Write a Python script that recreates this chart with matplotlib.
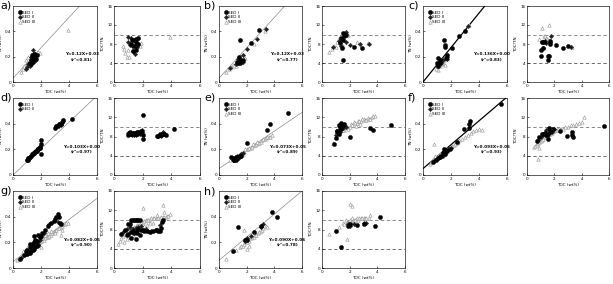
import matplotlib
matplotlib.use("Agg")
import matplotlib.pyplot as plt
import numpy as np

plt.rcParams['font.family'] = ['DejaVu Sans']

panel_labels = ["a)", "b)", "c)", "d)", "e)", "f)", "g)", "h)"]
group_names = ["SED I", "SED II", "SED III"]

# ---- data: TOC (wt%) and TN (wt%) per panel and sediment group ----
a_toc_1 = [1.2, 1.3, 1.35, 1.4, 1.45, 1.5, 1.55, 1.6, 1.65, 1.7, 1.25, 1.5]
a_tn_1 = [0.15, 0.17, 0.21, 0.16, 0.19, 0.18, 0.17, 0.2, 0.18, 0.21, 0.14, 0.22]
a_toc_2 = [1.0, 1.1, 1.2, 1.3, 1.45, 1.6, 0.95]
a_tn_2 = [0.12, 0.14, 0.13, 0.2, 0.25, 0.22, 0.1]
a_toc_3 = [0.6, 0.7, 0.8, 0.9, 1.0, 1.05, 1.8, 1.9, 3.9]
a_tn_3 = [0.08, 0.1, 0.13, 0.17, 0.15, 0.2, 0.24, 0.23, 0.41]

b_toc_1 = [1.3, 1.4, 1.5, 1.45, 1.6, 1.55, 1.7, 2.3, 2.9, 1.5]
b_tn_1 = [0.16, 0.15, 0.17, 0.2, 0.16, 0.15, 0.17, 0.31, 0.41, 0.33]
b_toc_2 = [0.8, 1.2, 1.35, 1.6, 1.7, 1.75, 2.0, 2.75, 3.4]
b_tn_2 = [0.11, 0.14, 0.18, 0.17, 0.16, 0.21, 0.26, 0.34, 0.42]
b_toc_3 = [0.5, 0.7, 0.9, 1.0, 1.1, 1.2, 1.3, 1.5, 1.9, 2.5, 3.3]
b_tn_3 = [0.08, 0.1, 0.12, 0.135, 0.13, 0.13, 0.15, 0.2, 0.19, 0.3, 0.4]

c_toc_1 = [1.0, 1.05, 1.1, 1.2, 1.25, 1.5, 1.6, 1.7, 1.65, 2.1, 2.6, 3.0, 1.55]
c_tn_1 = [0.15, 0.19, 0.13, 0.17, 0.15, 0.33, 0.29, 0.21, 0.19, 0.27, 0.36, 0.4, 0.28]
c_toc_2 = [1.1, 1.15, 1.3, 1.4, 1.7, 1.75, 3.2]
c_tn_2 = [0.13, 0.16, 0.15, 0.17, 0.2, 0.18, 0.44]
c_toc_3 = [1.1, 1.2, 1.25, 1.3, 1.35, 1.4, 1.45, 1.5, 1.6, 1.7, 3.3, 0.9]
c_tn_3 = [0.096, 0.14, 0.13, 0.15, 0.14, 0.15, 0.16, 0.17, 0.133, 0.19, 0.45, 0.1]

d_toc_1 = [1.0, 1.05, 1.1, 1.15, 1.2, 1.3, 1.35, 1.4, 1.5, 1.55, 1.6, 1.7, 1.75, 1.8,
           1.9, 1.95, 2.0, 2.0, 2.0, 3.0, 3.1, 3.2, 3.3, 3.4, 3.5, 3.6, 4.2]
d_tn_1 = [0.12, 0.12, 0.13, 0.13, 0.14, 0.15, 0.16, 0.16, 0.17, 0.18, 0.18, 0.19, 0.2, 0.2,
          0.21, 0.22, 0.16, 0.24, 0.27, 0.37, 0.38, 0.38, 0.4, 0.4, 0.41, 0.43, 0.44]
d_toc_2 = [1.0, 1.1, 1.2, 1.25, 1.3, 1.4, 1.45, 1.5, 1.6, 1.65, 1.7, 1.8, 1.85, 1.9, 1.95,
           3.05, 3.25, 3.45, 3.55]
d_tn_2 = [0.115, 0.13, 0.14, 0.15, 0.15, 0.17, 0.17, 0.18, 0.19, 0.19, 0.2, 0.21, 0.21, 0.22,
          0.21, 0.38, 0.4, 0.39, 0.42]
d_toc_3 = []
d_tn_3 = []

e_toc_1 = [0.9, 1.0, 1.05, 1.1, 1.2, 1.25, 1.3, 1.35, 1.4, 1.5, 1.6, 2.0, 3.45, 3.7, 5.0]
e_tn_1 = [0.14, 0.13, 0.115, 0.12, 0.14, 0.12, 0.13, 0.14, 0.13, 0.145, 0.15, 0.25, 0.35, 0.4, 0.48]
e_toc_2 = [1.0, 1.1, 1.2, 1.3, 1.4, 1.45, 1.5, 1.6, 1.7]
e_tn_2 = [0.12, 0.125, 0.13, 0.145, 0.14, 0.15, 0.155, 0.16, 0.17]
e_toc_3 = [0.8, 1.0, 1.2, 1.4, 1.6, 1.8, 2.0, 2.1, 2.2, 2.3, 2.4, 2.5, 2.6, 2.7, 2.8, 2.9,
           3.0, 3.1, 3.2, 3.3, 3.4, 3.5, 3.6, 3.7, 3.8, 1.5, 1.7, 1.9, 2.45, 2.75]
e_tn_3 = [0.12, 0.125, 0.14, 0.15, 0.17, 0.18, 0.2, 0.2, 0.21, 0.21, 0.22, 0.23, 0.23, 0.24,
          0.25, 0.25, 0.26, 0.27, 0.28, 0.28, 0.29, 0.3, 0.3, 0.3, 0.31, 0.16, 0.165, 0.2, 0.24, 0.26]

f_toc_1 = [0.7, 0.9, 1.1, 1.2, 1.3, 1.4, 1.5, 1.55, 1.6, 1.7, 1.9, 2.4, 2.9, 3.3, 3.3, 3.35, 5.6]
f_tn_1 = [0.1, 0.115, 0.13, 0.14, 0.15, 0.17, 0.2, 0.18, 0.165, 0.19, 0.2, 0.26, 0.36, 0.4,
          0.37, 0.42, 0.55]
f_toc_2 = [0.8, 1.0, 1.2, 1.4, 1.45, 1.6, 1.8, 2.0]
f_tn_2 = [0.11, 0.125, 0.14, 0.15, 0.18, 0.17, 0.2, 0.21]
f_toc_3 = [0.5, 0.6, 0.7, 0.75, 0.8, 0.9, 1.0, 1.1, 1.2, 1.3, 1.4, 1.5, 1.6, 1.7, 1.8, 1.9,
           2.0, 2.1, 2.2, 2.3, 2.4, 2.5, 2.6, 2.8, 3.0, 3.2, 3.4, 3.6, 3.8, 4.0, 4.2, 0.8, 0.85]
f_tn_3 = [0.085, 0.1, 0.11, 0.12, 0.12, 0.13, 0.14, 0.15, 0.16, 0.165, 0.175, 0.18, 0.19, 0.2,
          0.205, 0.21, 0.22, 0.225, 0.235, 0.24, 0.25, 0.26, 0.27, 0.28, 0.3, 0.31, 0.33,
          0.34, 0.35, 0.36, 0.35, 0.24, 0.15]

g_toc_1 = [0.5, 0.8, 0.9, 1.0, 1.0, 1.1, 1.2, 1.2, 1.3, 1.3, 1.4, 1.4, 1.5, 1.5, 1.6, 1.6,
           1.7, 1.7, 1.8, 1.9, 2.0, 2.1, 2.3, 2.5, 2.7, 2.9, 3.0, 3.1, 3.2, 3.3, 3.35, 3.4,
           1.2, 1.5, 1.8]
g_tn_1 = [0.07, 0.1, 0.13, 0.11, 0.14, 0.12, 0.12, 0.16, 0.13, 0.17, 0.14, 0.19, 0.15, 0.2,
          0.16, 0.22, 0.17, 0.21, 0.18, 0.24, 0.25, 0.27, 0.3, 0.33, 0.35, 0.37, 0.38, 0.4,
          0.42, 0.4, 0.35, 0.34, 0.19, 0.25, 0.26]
g_toc_2 = [0.6, 0.9, 1.1, 1.3, 1.5, 1.7, 1.9, 2.2, 2.6, 3.2]
g_tn_2 = [0.08, 0.11, 0.13, 0.16, 0.18, 0.2, 0.22, 0.27, 0.34, 0.36]
g_toc_3 = [0.3, 0.4, 0.5, 0.6, 0.7, 0.8, 0.9, 1.0, 1.1, 1.2, 1.3, 1.4, 1.5, 1.6, 1.7, 1.8,
           1.9, 2.0, 2.1, 2.2, 2.3, 2.4, 2.5, 2.6, 2.7, 2.8, 2.9, 3.0, 3.1, 3.2, 3.3, 3.4,
           3.5, 3.6, 3.7, 3.8, 3.9, 0.7, 0.9, 1.1, 1.3, 1.5, 1.7, 1.9, 2.1, 2.3, 2.5, 2.7,
           3.0, 3.5, 2.0, 3.4]
g_tn_3 = [0.06, 0.07, 0.08, 0.09, 0.1, 0.11, 0.12, 0.13, 0.14, 0.15, 0.155, 0.165, 0.17,
          0.18, 0.19, 0.195, 0.2, 0.21, 0.215, 0.22, 0.23, 0.24, 0.245, 0.25, 0.26, 0.27,
          0.28, 0.29, 0.3, 0.31, 0.31, 0.32, 0.33, 0.34, 0.34, 0.35, 0.35, 0.13, 0.15, 0.17,
          0.19, 0.2, 0.21, 0.23, 0.24, 0.26, 0.27, 0.29, 0.27, 0.3, 0.16, 0.26]

h_toc_1 = [1.0, 1.4, 1.9, 2.0, 3.0, 3.8, 4.2, 2.5]
h_tn_1 = [0.13, 0.32, 0.22, 0.22, 0.33, 0.44, 0.4, 0.28]
h_toc_2 = [1.9, 2.0, 2.3, 3.0, 3.2]
h_tn_2 = [0.21, 0.23, 0.25, 0.32, 0.34]
h_toc_3 = [0.5, 1.2, 1.5, 1.6, 1.7, 1.8, 1.9, 2.0, 2.1, 2.2, 2.3, 2.4, 2.5, 2.6, 2.7, 2.8,
           2.9, 3.0, 3.1, 3.2, 3.4, 3.5, 2.0, 1.8, 2.2]
h_tn_3 = [0.07, 0.14, 0.16, 0.175, 0.17, 0.19, 0.2, 0.2, 0.22, 0.21, 0.23, 0.24, 0.24, 0.26,
          0.26, 0.27, 0.28, 0.29, 0.3, 0.31, 0.33, 0.32, 0.15, 0.3, 0.17]

# regression lines (slope, intercept, r2)
slopes = [0.12, 0.12, 0.136, 0.103, 0.073, 0.093, 0.082, 0.090]
intercepts = [0.03, 0.03, 0.00, 0.00, 0.05, 0.05, 0.05, 0.06]
r2_values = [0.81, 0.77, 0.83, 0.97, 0.89, 0.93, 0.90, 0.78]
eq_texts = ["Y=0.12X+0.03", "Y=0.12X+0.03", "Y=0.136X+0.00", "Y=0.103X+0.00",
            "Y=0.073X+0.05", "Y=0.093X+0.05", "Y=0.082X+0.05", "Y=0.090X+0.06"]
dark_line = [False, False, True, False, False, True, False, False]

panels = [
    [(a_toc_1, a_tn_1), (a_toc_2, a_tn_2), (a_toc_3, a_tn_3)],
    [(b_toc_1, b_tn_1), (b_toc_2, b_tn_2), (b_toc_3, b_tn_3)],
    [(c_toc_1, c_tn_1), (c_toc_2, c_tn_2), (c_toc_3, c_tn_3)],
    [(d_toc_1, d_tn_1), (d_toc_2, d_tn_2), (d_toc_3, d_tn_3)],
    [(e_toc_1, e_tn_1), (e_toc_2, e_tn_2), (e_toc_3, e_tn_3)],
    [(f_toc_1, f_tn_1), (f_toc_2, f_tn_2), (f_toc_3, f_tn_3)],
    [(g_toc_1, g_tn_1), (g_toc_2, g_tn_2), (g_toc_3, g_tn_3)],
    [(h_toc_1, h_tn_1), (h_toc_2, h_tn_2), (h_toc_3, h_tn_3)],
]

# ---- layout (pixels) ----
W, H = 613, 284
fig = plt.figure(figsize=(W / 100, H / 100), dpi=100)

col_sc = [(13, 97), (219, 302), (423, 507)]
col_ra = [(114, 200), (322, 405), (527, 609)]
rows = [(6, 82), (98, 175), (191, 268)]
label_x = [0, 204, 408]


def rect(x0, x1, y0, y1):
    return [x0 / W, 1 - y1 / H, (x1 - x0) / W, (y1 - y0) / H]


styles = [
    dict(marker='o', s=9, c='black', edgecolors='black', linewidths=0.3),
    dict(marker='D', s=5, c='#222222', edgecolors='#222222', linewidths=0.3),
    dict(marker='^', s=6, facecolors='white', edgecolors='#9a9a9a', linewidths=0.45),
]

FS = 3.0


def style_ax(ax):
    for sp in ax.spines.values():
        sp.set_linewidth(0.45)
    ax.tick_params(direction='in', length=1.5, width=0.4, labelsize=FS, pad=1.2)


for i in range(8):
    r, c = divmod(i, 3)
    y0, y1 = rows[r]
    ax = fig.add_axes(rect(*col_sc[c], y0, y1))
    ax2 = fig.add_axes(rect(*col_ra[c], y0, y1))

    xs = np.linspace(0, 6, 50)
    ax.plot(xs, slopes[i] * xs + intercepts[i],
            color='black' if dark_line[i] else '#8a8a8a',
            lw=0.9 if dark_line[i] else 0.5, zorder=1)
    handles = []
    for g, (toc, tn) in enumerate(panels[i]):
        if len(toc) == 0:
            continue
        toc_a = np.array(toc)
        tn_a = np.array(tn)
        h = ax.scatter(toc_a, tn_a, zorder=4 - g * 0.5, label=group_names[g], **styles[g])
        ax2.scatter(toc_a, toc_a / tn_a, zorder=4 - g * 0.5, **styles[g])
        handles.append(h)
    ax.set_xlim(0, 6)
    ax.set_ylim(0, 0.6)
    ax.set_xticks([0, 2, 4, 6])
    ax.set_yticks([0, 0.2, 0.4])
    ax.set_yticklabels(['0', '0.2', '0.4'])
    ax.set_xlabel('TOC (wt%)', fontsize=FS, labelpad=1.5)
    ax.set_ylabel('TN (wt%)', fontsize=FS, labelpad=1.5)
    style_ax(ax)
    ax.legend(handles=handles, loc='upper left', fontsize=FS, frameon=False,
              handletextpad=0.1, borderpad=0.6, labelspacing=0.2, handlelength=1.0,
              borderaxespad=0.5)
    ax.text(0.82, 0.33, eq_texts[i] + "\n(r²=%.2f)" % r2_values[i], transform=ax.transAxes,
            fontsize=FS, fontweight='bold', ha='center', va='center', linespacing=1.3)

    ax2.axhline(10, color='#777777', lw=0.6, ls=(0, (4, 3)), zorder=1)
    ax2.axhline(4, color='#555555', lw=0.6, ls=(0, (4, 3)), zorder=1)
    ax2.set_xlim(0, 6)
    ax2.set_ylim(0, 16)
    ax2.set_xticks([0, 2, 4, 6])
    ax2.set_yticks([0, 4, 8, 12, 16])
    ax2.set_xlabel('TOC (wt%)', fontsize=FS, labelpad=1.5)
    ax2.set_ylabel('TOC/TN', fontsize=FS, labelpad=1.5)
    style_ax(ax2)

    fig.text(label_x[c] / W, 1 - (y0 - 5) / H, panel_labels[i], fontsize=8,
             ha='left', va='top')

fig.savefig('out.png', dpi=100)
